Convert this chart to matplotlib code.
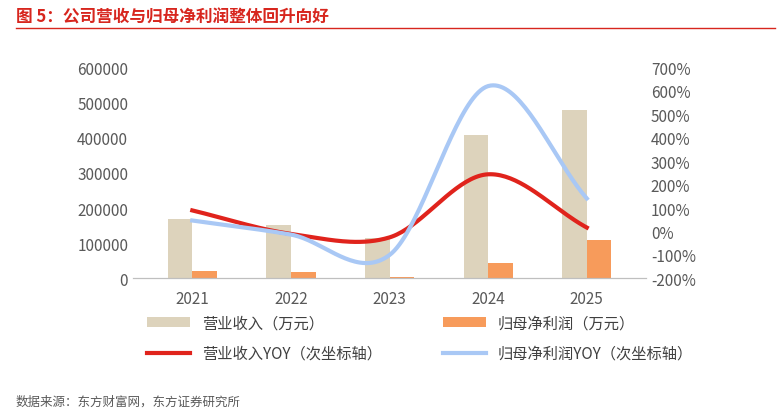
import matplotlib.pyplot as plt
import numpy as np

plt.rcParams['font.family'] = ['Noto Sans CJK SC', 'DejaVu Sans']

years = ['2021', '2022', '2023', '2024', '2025']
revenue = [170000, 153000, 116000, 409000, 480000]
profit = [20000, 17000, 5000, 43000, 108000]
revenue_yoy = [90, -10, -25, 244, 17]
profit_yoy = [47, -13, -100, 620, 141]


def smooth(y, n=40):
    # courbe lissée type Catmull-Rom entre les points
    y = np.asarray(y, float)
    p = np.concatenate([[2 * y[0] - y[1]], y, [2 * y[-1] - y[-2]]])
    xs, ys = [], []
    for i in range(len(y) - 1):
        t = np.linspace(0, 1, n, endpoint=False)
        p0, p1, p2, p3 = p[i], p[i + 1], p[i + 2], p[i + 3]
        v = 0.5 * ((2 * p1) + (-p0 + p2) * t + (2 * p0 - 5 * p1 + 4 * p2 - p3) * t**2
                   + (-p0 + 3 * p1 - 3 * p2 + p3) * t**3)
        xs.append(i + t)
        ys.append(v)
    xs.append([len(y) - 1])
    ys.append([y[-1]])
    return np.concatenate(xs), np.concatenate(ys)


fig = plt.figure(figsize=(7.83, 4.14), dpi=100)
ax = fig.add_axes([0.17, 0.325, 0.655, 0.51])
x = np.arange(len(years))
w = 0.25
ax.bar(x - w / 2, revenue, w, color='#DDD3BC', label='营业收入（万元）')
ax.bar(x + w / 2, profit, w, color='#F79B5B', label='归母净利润（万元）')
ax.set_ylim(0, 600000)
ax.set_yticks(range(0, 600001, 100000))
ax.set_xticks(x, years)
ax.set_xlim(-0.6, 4.6)
ax2 = ax.twinx()
sx, sy = smooth(revenue_yoy)
ax2.plot(sx, sy, color='#E0231C', lw=3, label='营业收入YOY（次坐标轴）')
sx, sy = smooth(profit_yoy)
ax2.plot(sx, sy, color='#A9C8F5', lw=3, label='归母净利润YOY（次坐标轴）')
ax2.set_ylim(-200, 700)
ax2.set_yticks(range(-200, 701, 100))
ax2.set_yticklabels([f'{v}%' for v in range(-200, 701, 100)])
for a in (ax, ax2):
    for s in ['top', 'right', 'left']:
        a.spines[s].set_visible(False)
    a.spines['bottom'].set_color('#BFBFBF')
    a.tick_params(length=0, labelsize=11, colors='#595959')
ax.tick_params(axis='x', pad=8)

h1, l1 = ax.get_legend_handles_labels()
h2, l2 = ax2.get_legend_handles_labels()
# ordre colonne par colonne pour obtenir les lignes du modèle
fig.legend([h1[0], h2[0], h1[1], h2[1]], [l1[0], l2[0], l1[1], l2[1]],
           loc='lower left', bbox_to_anchor=(0.17, 0.09), ncol=2, frameon=False,
           fontsize=11, columnspacing=4, handlelength=2.8, labelspacing=0.9,
           labelcolor='#404040')

fig.text(0.02, 0.945, '图 5：公司营收与归母净利润整体回升向好', color='#D7261E',
         fontsize=12, weight='bold')
fig.add_artist(plt.Line2D([0.02, 0.99], [0.93, 0.93], color='#D7261E', lw=1))
fig.text(0.02, 0.02, '数据来源：东方财富网，东方证券研究所', color='#595959', fontsize=9)
fig.savefig('out.png', dpi=100)
